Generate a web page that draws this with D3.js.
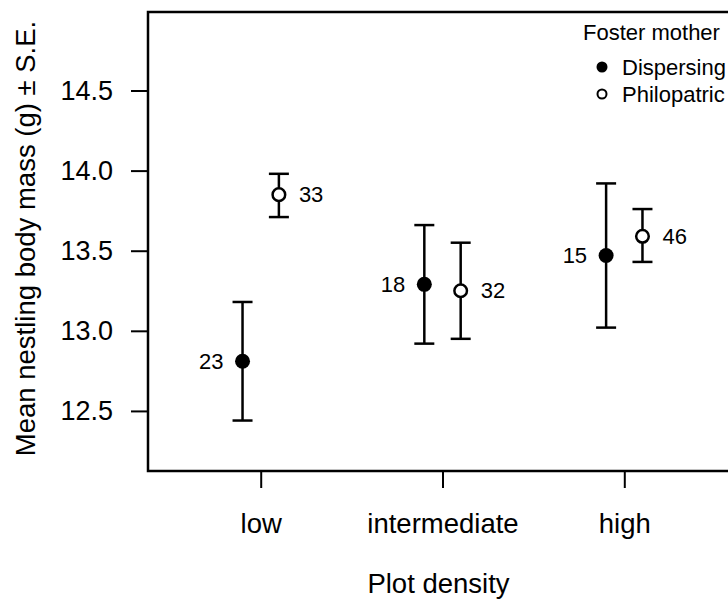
<!DOCTYPE html>
<html>
<head>
<meta charset="utf-8">
<script src="https://cdn.jsdelivr.net/npm/d3@7"></script>
<style>
  body { margin: 0; background: white; }
  svg { display: block; font-family: "Liberation Sans", Arial, sans-serif; }
</style>
</head>
<body>
<svg width="728" height="601"></svg>
<script>
// plot density groups
const categories = ['low', 'intermediate', 'high']

// dispersing foster mothers: mean, mean - SE, mean + SE, sample size
const dispMean = [12.81, 13.29, 13.47]
const dispLo = [12.44, 12.92, 13.02]
const dispHi = [13.18, 13.66, 13.92]
const dispN = [23, 18, 15]

// philopatric foster mothers
const philMean = [13.85, 13.25, 13.59]
const philLo = [13.71, 12.95, 13.43]
const philHi = [13.98, 13.55, 13.76]
const philN = [33, 32, 46]

const yTicks = [12.5, 13.0, 13.5, 14.0, 14.5]
const legendLabels = ['Dispersing', 'Philopatric']

const plot = { left: 148, right: 737, top: 12, bottom: 471 }
const dodge = 0.1

const svg = d3.select('svg')

const x = d3.scaleLinear()
  .domain([0.38, 3.62])
  .range([plot.left, plot.right])

const y = d3.scaleLinear()
  .domain([12.125, 14.99])
  .range([plot.bottom, plot.top])

// build rows for both series
const series = [
  { name: legendLabels[0], filled: true, off: -dodge, mean: dispMean, lo: dispLo, hi: dispHi, n: dispN },
  { name: legendLabels[1], filled: false, off: dodge, mean: philMean, lo: philLo, hi: philHi, n: philN }
]
const rows = []
series.forEach(s => {
  categories.forEach((c, i) => {
    rows.push({ pos: i + 1 + s.off, mean: s.mean[i], lo: s.lo[i], hi: s.hi[i], n: s.n[i], filled: s.filled })
  })
})

// axes
const yAxis = d3.axisLeft(y)
  .tickValues(yTicks)
  .tickFormat(d3.format('.1f'))
  .tickSize(17)
  .tickPadding(18)

svg.append('g')
  .attr('transform', `translate(${plot.left},0)`)
  .call(yAxis)
  .call(g => g.select('.domain').remove())
  .call(g => g.selectAll('line').attr('stroke', '#000').attr('stroke-width', 2))
  .call(g => g.selectAll('text').attr('font-size', 27).attr('fill', '#000').attr('font-family', null))

const xAxis = d3.axisBottom(x)
  .tickValues([1, 2, 3])
  .tickFormat(d => categories[d - 1])
  .tickSize(17)
  .tickPadding(25)

svg.append('g')
  .attr('transform', `translate(0,${plot.bottom})`)
  .call(xAxis)
  .call(g => g.select('.domain').remove())
  .call(g => g.selectAll('line').attr('stroke', '#000').attr('stroke-width', 2))
  .call(g => g.selectAll('text').attr('font-size', 27.5).attr('fill', '#000').attr('font-family', null))

// plot box
svg.append('rect')
  .attr('x', plot.left)
  .attr('y', plot.top)
  .attr('width', plot.right - plot.left)
  .attr('height', plot.bottom - plot.top)
  .attr('fill', 'none')
  .attr('stroke', '#000')
  .attr('stroke-width', 2.5)

// axis titles
svg.append('text')
  .attr('x', (plot.left + plot.right) / 2 - 4)
  .attr('y', 593)
  .attr('text-anchor', 'middle')
  .attr('font-size', 27.5)
  .text('Plot density')

svg.append('text')
  .attr('transform', `translate(35,${(plot.top + plot.bottom) / 2 - 3}) rotate(-90)`)
  .attr('text-anchor', 'middle')
  .attr('font-size', 27.5)
  .text('Mean nestling body mass (g) ± S.E.')

// error bars
const bars = svg.append('g')
  .attr('stroke', '#000')
  .attr('stroke-width', 2.5)
  .selectAll('g')
  .data(rows)
  .enter()
  .append('g')

bars.append('line')
  .attr('x1', d => x(d.pos)).attr('x2', d => x(d.pos))
  .attr('y1', d => y(d.lo)).attr('y2', d => y(d.hi))
bars.append('line')
  .attr('x1', d => x(d.pos) - 10).attr('x2', d => x(d.pos) + 10)
  .attr('y1', d => y(d.lo)).attr('y2', d => y(d.lo))
bars.append('line')
  .attr('x1', d => x(d.pos) - 10).attr('x2', d => x(d.pos) + 10)
  .attr('y1', d => y(d.hi)).attr('y2', d => y(d.hi))

// points
svg.append('g')
  .selectAll('circle')
  .data(rows)
  .enter()
  .append('circle')
  .attr('cx', d => x(d.pos))
  .attr('cy', d => y(d.mean))
  .attr('r', d => d.filled ? 7.5 : 6.3)
  .attr('fill', d => d.filled ? '#000' : '#fff')
  .attr('stroke', '#000')
  .attr('stroke-width', d => d.filled ? 0 : 2.5)

// sample sizes
svg.append('g')
  .selectAll('text')
  .data(rows)
  .enter()
  .append('text')
  .attr('x', d => x(d.pos) + (d.filled ? -19 : 20))
  .attr('y', d => y(d.mean))
  .attr('dy', '0.35em')
  .attr('text-anchor', d => d.filled ? 'end' : 'start')
  .attr('font-size', 22)
  .text(d => d.n)

// legend
const legend = svg.append('g')
legend.append('text')
  .attr('x', 583)
  .attr('y', 40)
  .attr('font-size', 22)
  .text('Foster mother')

const items = legend.selectAll('g.item')
  .data(series)
  .enter()
  .append('g')
  .classed('item', true)
  .attr('transform', (d, i) => `translate(0,${67 + i * 27})`)

items.append('circle')
  .attr('cx', 602)
  .attr('cy', 0)
  .attr('r', d => d.filled ? 5.5 : 4.5)
  .attr('fill', d => d.filled ? '#000' : '#fff')
  .attr('stroke', '#000')
  .attr('stroke-width', d => d.filled ? 0 : 2)

items.append('text')
  .attr('x', 622)
  .attr('y', 0)
  .attr('dy', '0.35em')
  .attr('font-size', 22)
  .text(d => d.name)
</script>
</body>
</html>
